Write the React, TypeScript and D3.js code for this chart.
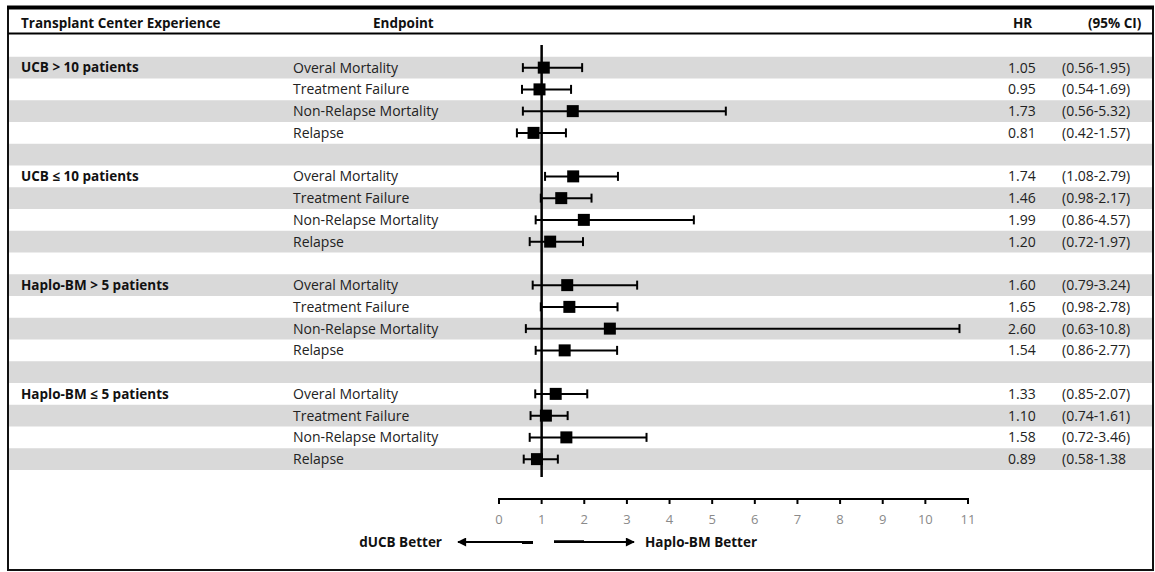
import React from "react";
import * as d3 from "d3";

const groups = ["UCB > 10 patients", "UCB ≤ 10 patients", "Haplo-BM > 5 patients", "Haplo-BM ≤ 5 patients"];
const endpoints = ["Overal Mortality", "Treatment Failure", "Non-Relapse Mortality", "Relapse"];
const hrValues = [
  [1.05, 0.95, 1.73, 0.81],
  [1.74, 1.46, 1.99, 1.2],
  [1.6, 1.65, 2.6, 1.54],
  [1.33, 1.1, 1.58, 0.89],
];
const ciLower = [
  [0.56, 0.54, 0.56, 0.42],
  [1.08, 0.98, 0.86, 0.72],
  [0.79, 0.98, 0.63, 0.86],
  [0.85, 0.74, 0.72, 0.58],
];
const ciUpper = [
  [1.95, 1.69, 5.32, 1.57],
  [2.79, 2.17, 4.57, 1.97],
  [3.24, 2.78, 10.8, 2.77],
  [2.07, 1.61, 3.46, 1.38],
];
const hrLabels = [
  ["1.05", "0.95", "1.73", "0.81"],
  ["1.74", "1.46", "1.99", "1.20"],
  ["1.60", "1.65", "2.60", "1.54"],
  ["1.33", "1.10", "1.58", "0.89"],
];
const ciLabels = [
  ["(0.56-1.95)", "(0.54-1.69)", "(0.56-5.32)", "(0.42-1.57)"],
  ["(1.08-2.79)", "(0.98-2.17)", "(0.86-4.57)", "(0.72-1.97)"],
  ["(0.79-3.24)", "(0.98-2.78)", "(0.63-10.8)", "(0.86-2.77)"],
  ["(0.85-2.07)", "(0.74-1.61)", "(0.72-3.46)", "(0.58-1.38"],
];
const axisTicks = [0, 1, 2, 3, 4, 5, 6, 7, 8, 9, 10, 11];

const W = 1155;
const H = 572;
const FONT = "'Open Sans', 'Liberation Sans', Arial, sans-serif";

export default function App() {
  const x = d3.scaleLinear().domain([0, 11]).range([499, 968]);
  const nRows = 20;
  const y = d3.scaleLinear().domain([0, nRows]).range([35, 35 + nRows * 21.75]);
  const rowH = y(1) - y(0);
  const cy = (r: number) => y(r) + rowH / 2;

  const left = 8;
  const right = 1153;

  const rows: { g: number; i: number; r: number }[] = [];
  groups.forEach((_, g) => endpoints.forEach((__, i) => rows.push({ g, i, r: 1 + g * 5 + i })));

  const axisY = 499;
  const arrowY = 542;
  const box = 12;
  const cap = 4.5;

  return (
    <svg width={W} height={H} style={{ position: "absolute", left: 0, top: 0, background: "#fff" }} fontFamily={FONT}>
      <defs>
        <marker id="ah" viewBox="0 0 10 10" refX="9" refY="5" markerWidth="5" markerHeight="4.5" orient="auto-start-reverse">
          <path d="M0,0 L10,5 L0,10 z" fill="#000" />
        </marker>
      </defs>
      {/* stripes */}
      {d3.range(1, nRows, 2).map((r) => (
        <rect key={"s" + r} x={left} y={y(r)} width={right - left} height={rowH} fill="#d9d9d9" />
      ))}
      {/* frame */}
      <line x1={left} x2={left} y1={7} y2={570} stroke="#111" strokeWidth={2} />
      <line x1={right} x2={right} y1={7} y2={570} stroke="#111" strokeWidth={2} />
      <line x1={left - 1} x2={right + 1} y1={570} y2={570} stroke="#111" strokeWidth={2} />
      <line x1={left - 1} x2={right + 1} y1={7.5} y2={7.5} stroke="#000" strokeWidth={4} />
      <line x1={left} x2={right} y1={33.5} y2={33.5} stroke="#000" strokeWidth={2} />

      {/* headers */}
      <g fontWeight="bold" fontSize={13.5} fill="#111">
        <text x={21} y={23} dy="0.35em">Transplant Center Experience</text>
        <text x={373} y={23} dy="0.35em">Endpoint</text>
        <text x={1013} y={23} dy="0.35em">HR</text>
        <text x={1088} y={23} dy="0.35em">(95% CI)</text>
      </g>

      {/* group labels */}
      {groups.map((g, gi) => (
        <text key={g} x={21} y={cy(1 + gi * 5)} dy="0.35em" fontWeight="bold" fontSize={13.5} fill="#111">
          {g}
        </text>
      ))}

      {/* endpoint rows */}
      {rows.map(({ g, i, r }) => (
        <g key={"r" + r} fontSize={14} fill="#222">
          <text x={293} y={cy(r)} dy="0.35em">{endpoints[i]}</text>
          <text x={1008} y={cy(r)} dy="0.35em">{hrLabels[g][i]}</text>
          <text x={1062} y={cy(r)} dy="0.35em">{ciLabels[g][i]}</text>
        </g>
      ))}

      {/* reference line */}
      <line x1={x(1)} x2={x(1)} y1={45} y2={477} stroke="#000" strokeWidth={2.5} />

      {/* CIs */}
      {rows.map(({ g, i, r }) => {
        const yy = cy(r);
        const lo = x(ciLower[g][i]);
        const hi = x(ciUpper[g][i]);
        const m = x(hrValues[g][i]);
        return (
          <g key={"c" + r}>
            <line x1={lo} x2={hi} y1={yy} y2={yy} stroke="#000" strokeWidth={2} />
            <line x1={lo} x2={lo} y1={yy - cap} y2={yy + cap} stroke="#000" strokeWidth={2} />
            <line x1={hi} x2={hi} y1={yy - cap} y2={yy + cap} stroke="#000" strokeWidth={2} />
            <rect x={m - box / 2} y={yy - box / 2} width={box} height={box} fill="#000" />
          </g>
        );
      })}

      {/* axis */}
      <line x1={x(0)} x2={x(11)} y1={axisY} y2={axisY} stroke="#000" strokeWidth={2} />
      {axisTicks.map((t) => (
        <g key={"t" + t}>
          <line x1={x(t)} x2={x(t)} y1={axisY - 1} y2={axisY + 5} stroke="#000" strokeWidth={2} />
          <text x={x(t)} y={519} dy="0.35em" textAnchor="middle" fontSize={13} fill="#8a8a8a">
            {t}
          </text>
        </g>
      ))}

      {/* arrows */}
      <line x1={533} x2={458} y1={arrowY} y2={arrowY} stroke="#000" strokeWidth={2} markerEnd="url(#ah)" />
      <line x1={522} x2={533} y1={arrowY + 0.5} y2={arrowY + 0.5} stroke="#000" strokeWidth={3} />
      <line x1={554} x2={634} y1={arrowY} y2={arrowY} stroke="#000" strokeWidth={2} markerEnd="url(#ah)" />
      <line x1={554} x2={584} y1={arrowY - 0.5} y2={arrowY - 0.5} stroke="#000" strokeWidth={2.5} />
      <text x={442} y={arrowY} dy="0.35em" textAnchor="end" fontWeight="bold" fontSize={13.5} fill="#111">
        dUCB Better
      </text>
      <text x={645} y={arrowY} dy="0.35em" fontWeight="bold" fontSize={13.5} fill="#111">
        Haplo-BM Better
      </text>
    </svg>
  );
}
